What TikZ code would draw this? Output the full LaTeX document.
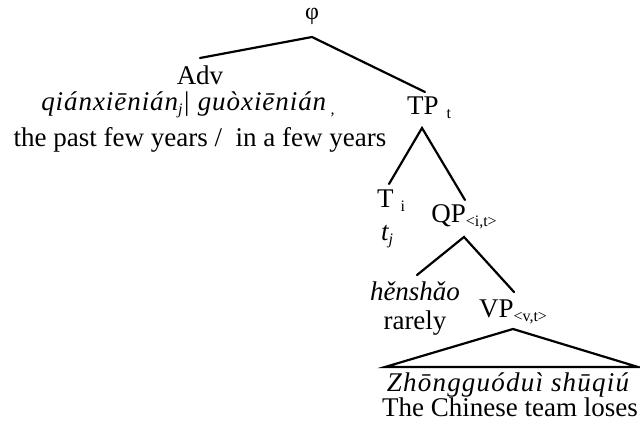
\documentclass[tikz,border=0pt]{standalone}
\usepackage{fontspec}
\setmainfont{Liberation Serif}
\newcommand\lsub[1]{\raisebox{-4pt}{\fontsize{16}{16}\selectfont #1}}
\newcommand\wideit{\itshape\addfontfeatures{LetterSpace=3.5}}
\begin{document}
\begin{tikzpicture}[x=1pt,y=-1pt,
  lbl/.style={inner sep=0pt, anchor=base, font=\fontsize{27}{30}\selectfont},
  edge/.style={line width=2.2pt, line cap=round, line join=miter}]
\useasboundingbox (0,0) rectangle (640,427);
% labels
\node[inner sep=0pt, font=\fontsize{24}{26}\selectfont] (phi) at (312,16) {φ};
\node[lbl] (adv) at (200,85) {Adv};
\node[lbl] (advpy) at (188,111) {\wideit qiánxiēnián\lsub{j}| guòxiēnián\,\lsub{,}};
\node[lbl] (adven) at (200,147) {the past few years /\ \ in a few years};
\node[lbl] (tp) at (429,115) {TP\hspace{8pt}\lsub{t}};
\node[lbl] (t) at (391,208) {T\hspace{7pt}\lsub{i}};
\node[lbl] (tj) at (387,241) {\itshape t\lsub{j}};
\node[lbl] (qp) at (464,223) {QP\lsub{<i,t>}};
\node[lbl] (hen) at (415,301) {\itshape hěnshǎo};
\node[lbl] (rarely) at (415,330) {rarely};
\node[lbl] (vp) at (513,318) {VP\lsub{<v,t>}};
\node[lbl] (zh) at (508,392) {\itshape\addfontfeatures{LetterSpace=4.5} Zhōngguóduì shūqiú};
\node[lbl] (en) at (510,417) {The Chinese team loses};
% branch points
\coordinate (phiA) at (312,37);
\coordinate (advT) at (200,58);
\coordinate (tpT) at (425,92);
\coordinate (tpA) at (422,128);
\coordinate (tT) at (389,184);
\coordinate (qpT) at (465,200);
\coordinate (qpA) at (464,237);
\coordinate (henT) at (417,275);
\coordinate (vpT) at (514,292);
\coordinate (vpA) at (513,329);
\coordinate (triL) at (385,367);
\coordinate (triR) at (638,367);
% edges
\draw[edge] (advT) -- (phiA) -- (tpT);
\draw[edge] (tT) -- (tpA) -- (qpT);
\draw[edge] (henT) -- (qpA) -- (vpT);
\draw[edge] (triL) -- (vpA) -- (triR) -- cycle;
\end{tikzpicture}
\end{document}
